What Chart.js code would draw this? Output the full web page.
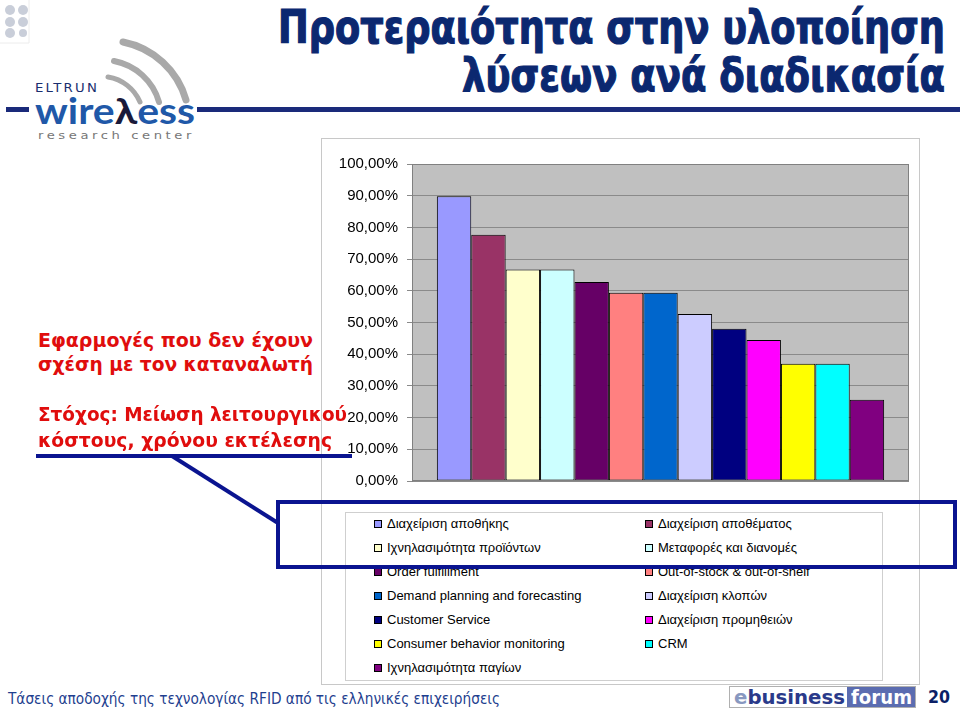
<!DOCTYPE html>
<html><head><meta charset="utf-8">
<script src="https://cdn.jsdelivr.net/npm/chart.js@4.4.0/dist/chart.umd.min.js"></script>
<style>
html,body{margin:0;padding:0;background:#fff;}
body{width:960px;height:712px;position:relative;overflow:hidden;font-family:"Liberation Sans",Arial,sans-serif;}
.abs{position:absolute;white-space:nowrap;}
[data-w]{transform-origin:0 0;}
#frame{position:absolute;left:321px;top:138px;width:599px;height:547px;border:1px solid #c8c8c8;background:#fff;box-sizing:border-box;}
#cwrap{position:absolute;left:322px;top:139px;width:598px;height:360px;}
#legend{position:absolute;left:345px;top:512px;width:538px;height:169px;border:1px solid #cfcfcf;box-sizing:border-box;}
.li{position:absolute;font-size:13px;color:#000;line-height:16px;white-space:nowrap;}
.li i{position:absolute;left:-13px;top:4px;width:8px;height:8px;border:1px solid #000;box-sizing:border-box;}
.title{font-family:"Liberation Sans Narrow","DejaVu Sans Condensed",sans-serif;font-weight:bold;font-size:47px;line-height:47px;color:#0b2870;-webkit-text-stroke:1.2px #0b2870;}
.red{font-family:"DejaVu Sans",Verdana,sans-serif;font-weight:bold;font-size:19px;line-height:19px;color:#e00d0d;}
</style>
</head><body>
<div id="frame"></div>
<div id="cwrap"><canvas id="c" width="598" height="360"></canvas></div>
<div id="legend"></div>

<!-- title -->
<div class="abs title" style="left:278px;top:3px" data-w="667">Προτεραιότητα στην υλοποίηση</div>
<div class="abs title" style="left:462px;top:51px" data-w="483">λύσεων ανά διαδικασία</div>

<!-- left text -->
<div class="abs red" style="left:38px;top:331px" data-w="275">Εφαρμογές που δεν έχουν</div>
<div class="abs red" style="left:38px;top:355px" data-w="275">σχέση με τον καταναλωτή</div>
<div class="abs red" style="left:38px;top:405px" data-w="309">Στόχος: Μείωση λειτουργικού</div>
<div class="abs red" style="left:38px;top:431px" data-w="294">κόστους, χρόνου εκτέλεσης</div>

<!-- logo -->
<svg class="abs" style="left:0;top:0" width="220" height="145">
  <g fill="#c9ced9">
    <circle cx="10" cy="10" r="5"/><circle cx="23" cy="10" r="5"/>
    <circle cx="10" cy="22" r="5"/><circle cx="23" cy="22" r="5"/>
    <circle cx="10" cy="33" r="5"/><circle cx="23" cy="33" r="4"/>
  </g>
  <path d="M29 0 V43 H0" fill="none" stroke="#ececec" stroke-width="1"/>
  <g fill="none" stroke="#a9a9a9" stroke-linecap="round">
    <path d="M123 42 A82 82 0 0 1 186 100" stroke-width="7"/>
    <path d="M114 61 A58 58 0 0 1 159 102" stroke-width="6"/>
    <path d="M108 77 A42 42 0 0 1 140 102" stroke-width="5"/>
  </g>
  <rect x="6" y="107" width="23" height="5" fill="#1a2a7a"/>
</svg>
<div class="abs" style="left:35px;top:82px;font-family:'DejaVu Sans',sans-serif;font-size:12px;line-height:13px;color:#1a2e6e;letter-spacing:2px" data-w="64">ELTRUN</div>
<div class="abs" style="left:35px;top:92px;font-family:'Lato','DejaVu Sans',sans-serif;font-weight:bold;font-size:36px;line-height:36px;color:#2058a8" data-w="160">wire<span style="color:#1a1a3a">λ</span>ess</div>
<div class="abs" style="left:38px;top:130px;font-family:'DejaVu Sans',sans-serif;font-size:11px;line-height:12px;color:#777;letter-spacing:3px" data-w="157">research center</div>
<div class="abs" style="left:197px;top:107px;width:763px;height:5px;background:#1a2a7a"></div>

<!-- footer -->
<div class="abs" style="left:8px;top:691px;font-family:'DejaVu Sans Condensed','DejaVu Sans',sans-serif;font-size:16px;line-height:16px;color:#1f3f8f" data-w="492">Τάσεις αποδοχής της τεχνολογίας RFID από τις ελληνικές επιχειρήσεις</div>
<div class="abs" style="left:729px;top:686px;width:187px;height:22px;border:1px solid #b0b0b0;box-sizing:border-box;background:#fff"></div>
<div class="abs" style="left:847px;top:687px;width:68px;height:20px;background:#5b6cb0"></div>
<div class="abs" style="left:734px;top:686px;font-family:'DejaVu Sans Condensed','DejaVu Sans',sans-serif;font-weight:bold;font-size:20px;line-height:22px;color:#2a3a8a" data-w="111"><span style="color:#8898c0">e</span>business</div>
<div class="abs" style="left:851px;top:686px;font-family:'DejaVu Sans Condensed','DejaVu Sans',sans-serif;font-weight:bold;font-size:20px;line-height:22px;color:#fff" data-w="61">forum</div>
<div class="abs" style="left:928px;top:687px;font-family:'DejaVu Sans Condensed','DejaVu Sans',sans-serif;font-weight:bold;font-size:18px;line-height:20px;color:#0b1f66" data-w="22">20</div>

<!-- highlight overlay -->
<svg class="abs" style="left:0;top:0;pointer-events:none" width="960" height="712">
  <g stroke="#0a1490" stroke-width="4" fill="none">
    <line x1="36" y1="456" x2="352" y2="456"/>
    <line x1="172" y1="456" x2="278" y2="523"/>
    <rect x="278" y="502" width="677" height="65"/>
  </g>
</svg>

<script>
const categories = [''];
const seriesNames = ['Διαχείριση αποθήκης','Διαχείριση αποθέματος','Ιχνηλασιμότητα προϊόντων','Μεταφορές και διανομές','Order fulfillment','Out-of-stock & out-of-shelf','Demand planning and forecasting','Διαχείριση κλοπών','Customer Service','Διαχείριση προμηθειών','Consumer behavior monitoring','CRM','Ιχνηλασιμότητα παγίων'];
const seriesValues = [89.8,77.7,66.7,66.7,62.8,59.4,59.4,52.7,48.0,44.5,37.0,37.0,25.6];
const seriesColors = ['#9999FF','#993366','#FFFFCC','#CCFFFF','#660066','#FF8080','#0066CC','#CCCCFF','#000080','#FF00FF','#FFFF00','#00FFFF','#800080'];
const yTickLabels = ['0,00%','10,00%','20,00%','30,00%','40,00%','50,00%','60,00%','70,00%','80,00%','90,00%','100,00%'];

const plotBg = {
  id:'plotBg',
  beforeDraw(chart){
    const {ctx, chartArea:a} = chart;
    ctx.save(); ctx.fillStyle = '#C0C0C0';
    ctx.fillRect(a.left, a.top, a.right-a.left, a.bottom-a.top); ctx.restore();
  },
  afterDraw(chart){
    const {ctx, chartArea:a} = chart;
    ctx.save(); ctx.strokeStyle = '#808080'; ctx.lineWidth = 1;
    ctx.strokeRect(Math.round(a.left)+0.5, Math.round(a.top)+0.5, Math.round(a.right-a.left)-1, Math.round(a.bottom-a.top)-1);
    ctx.restore();
  }
};

const datasets = seriesNames.map((n,i)=>({
  label:n, data:[seriesValues[i]], backgroundColor:seriesColors[i],
  borderColor:'#000', borderWidth:1, borderSkipped:false,
  categoryPercentage:0.9, barPercentage:1.0
}));

const chart = new Chart(document.getElementById('c'), {
  type:'bar',
  data:{labels:categories, datasets},
  plugins:[plotBg],
  options:{
    responsive:false, animation:false, devicePixelRatio:1,
    layout:{padding:{top:25,right:11,bottom:15,left:0}},
    plugins:{legend:{display:false}, tooltip:{enabled:false}},
    scales:{
      x:{display:false},
      y:{
        min:0, max:100,
        afterFit(s){ s.width = 90; },
        ticks:{stepSize:10, padding:9, color:'#000', font:{family:'"Liberation Sans", Arial, sans-serif', size:15},
          callback:(v,i)=>yTickLabels[i]},
        grid:{color:'#8a8a8a', lineWidth:1, tickLength:5, drawTicks:true},
        border:{display:true, color:'#808080'}
      }
    }
  }
});

// legend built from the chart's datasets
const lg = document.getElementById('legend');
chart.data.datasets.forEach((d,i)=>{
  const col = i%2, row = Math.floor(i/2);
  const el = document.createElement('div');
  el.className='li';
  el.style.left = (col ? 312 : 41) + 'px';
  el.style.top = (3 + row*24) + 'px';
  el.innerHTML = '<i style="background:'+d.backgroundColor+'"></i>';
  el.appendChild(document.createTextNode(d.label));
  lg.appendChild(el);
});

function fit(){
  document.querySelectorAll('[data-w]').forEach(el=>{
    el.style.transform='none';
    const w = el.getBoundingClientRect().width;
    el.style.transform = 'scaleX(' + (+el.dataset.w / w) + ')';
  });
}
fit();
if (document.fonts && document.fonts.ready) document.fonts.ready.then(fit);
</script>
</body></html>
